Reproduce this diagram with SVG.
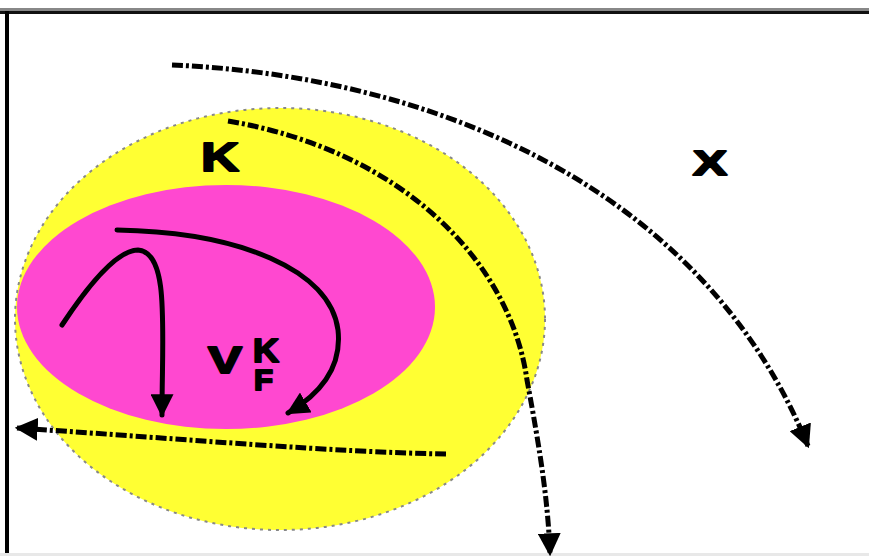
<svg xmlns="http://www.w3.org/2000/svg" width="869" height="556" viewBox="0 0 869 556">
<style>
.lbl{font-family:"Liberation Sans",Arial,sans-serif;font-weight:bold;fill:#000;stroke:#000;stroke-width:2;stroke-linejoin:round}
.dd{fill:none;stroke:#000;stroke-width:5;stroke-dasharray:11 3 3 3}
.sol{fill:none;stroke:#000;stroke-width:5;stroke-linecap:round}
</style>
<defs>
<marker id="ah" viewBox="0 0 10 10" refX="9" refY="5" markerWidth="4.6" markerHeight="4.6" markerUnits="strokeWidth" orient="auto">
<path d="M0,0 L10,5 L0,10 z" fill="#000"/>
</marker>
</defs>
<rect width="869" height="556" fill="#fff"/>
<rect x="0" y="8" width="869" height="3" fill="#888"/>
<rect x="0" y="11" width="869" height="3" fill="#111"/>
<rect x="5" y="11" width="4" height="545" fill="#000"/>
<rect x="0" y="553" width="869" height="3" fill="#e8e8e8"/>
<g id="K">
<ellipse cx="280" cy="319" rx="265" ry="211" fill="#ffff33" stroke="#888" stroke-width="2" stroke-dasharray="3 5"/>
<text class="lbl" x="201" y="171" font-size="40" textLength="38" lengthAdjust="spacingAndGlyphs">K</text>
</g>
<g id="VFK">
<ellipse cx="226" cy="307" rx="209" ry="122" fill="#ff48d0"/>
<text class="lbl" x="208" y="373" font-size="37" textLength="34" lengthAdjust="spacingAndGlyphs">V</text>
<text class="lbl" x="253" y="362" font-size="33" textLength="26" lengthAdjust="spacingAndGlyphs">K</text>
<text class="lbl" x="254" y="390" font-size="29" textLength="19" lengthAdjust="spacingAndGlyphs">F</text>
</g>
<g id="X">
<text class="lbl" x="693" y="175" font-size="35" textLength="34" lengthAdjust="spacingAndGlyphs">X</text>
</g>
<g id="connectors">
<path class="dd" d="M172,65 C420,75 700,180 808,446" marker-end="url(#ah)"/>
<path class="dd" d="M228,121 C400,150 510,260 527,380 C540,450 548,500 550,554" marker-end="url(#ah)"/>
<path class="dd" d="M446,454 C330,452 200,440 17,428" marker-end="url(#ah)"/>
<path class="sol" d="M62,325 C95,275 120,250 138,250 C170,252 162,330 162,415" marker-end="url(#ah)"/>
<path class="sol" d="M117,230 C240,232 330,270 338,330 C343,375 310,400 288,413" marker-end="url(#ah)"/>
</g>
</svg>
